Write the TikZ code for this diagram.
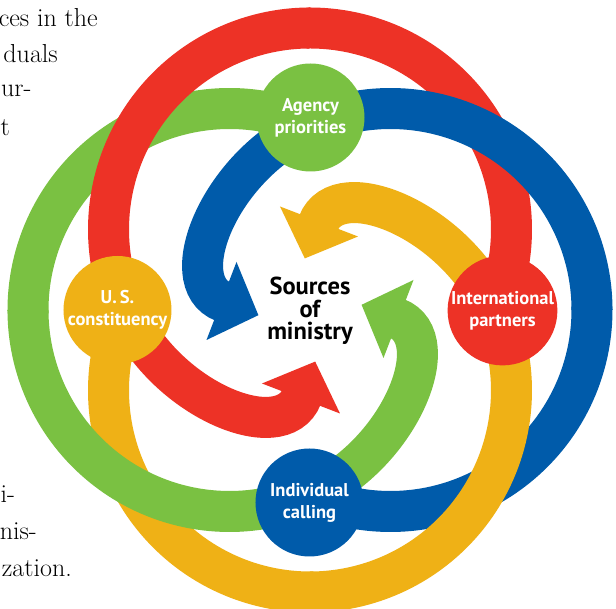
\documentclass[tikz,border=0pt]{standalone}
\usepackage{fontspec}
\newfontfamily\labfont{PT Sans}
\definecolor{ringred}{RGB}{237,50,38}
\definecolor{ringblue}{RGB}{0,91,170}
\definecolor{ringgreen}{RGB}{122,193,66}
\definecolor{ringyellow}{RGB}{239,177,22}
\tikzset{
  band/.style={line width=41pt, line cap=butt},
  hub/.style={circle, minimum size=108pt, inner sep=0pt, text=white,
    font=\labfont\bfseries\fontsize{18.5}{22}\selectfont, align=center},
  core/.style={font=\labfont\bfseries\fontsize{24.5}{24.5}\selectfont, text=black, anchor=base, inner sep=0pt},
  margin/.style={font=\fontsize{26}{26}\selectfont, anchor=base east, inner sep=0pt}
}
\newcommand\earlyband[2]{%
  \begin{scope}[rotate=#1]
    \draw[band,#2] ([shift={(0,80.5)}]-22.6:201.5) arc[start angle=-22.6, end angle=91, radius=201.5];
  \end{scope}}
\newcommand\lateband[2]{%
  \begin{scope}[rotate=#1]
    \draw[band,#2] ([shift={(0,80.5)}]90:201.5) arc[start angle=90, end angle=202.6, radius=201.5]
      .. controls +(-67.4:100) and +(249:55) .. (-8.3,-86.6);
    \fill[#2] (-48,-73.5) -- (5.2,-51.6) -- (30,-103.5) -- cycle;
  \end{scope}}
\begin{document}
\begin{tikzpicture}[x=1pt,y=1pt]
\clip (-310,-299) rectangle (306,310);
\fill[white] (-310,-299) rectangle (306,310);
% lower layer: first half of every ring
\earlyband{0}{ringred}
\earlyband{-90}{ringblue}
\earlyband{180}{ringyellow}
\earlyband{90}{ringgreen}
% upper layer: second half of every ring and its arrow
\lateband{0}{ringred}
\lateband{-90}{ringblue}
\lateband{180}{ringyellow}
\lateband{90}{ringgreen}
% hubs
\node[hub, fill=ringgreen] (agency) at (0.5,192.5) {Agency\\priorities};
\node[hub, fill=ringred] (intl) at (192.5,-0.5) {International\\partners};
\node[hub, fill=ringblue] (indiv) at (-0.5,-192.5) {Individual\\calling};
\node[hub, fill=ringyellow] (us) at (-192.5,0) {U.\,S.\\constituency};
% centre
\node[core] (src) at (0,15) {Sources};
\node[core] (of) at (0,-8) {of};
\node[core] (min) at (0,-30) {ministry};
% cut-off paragraph text at the left
\node[margin] (m1) at (-212,283) {ces in the};
\node[margin] (m2) at (-252,247) {duals};
\node[margin, anchor=base west] (m3) at (-309,213) {ur-};
\node[margin, anchor=base west] (m4) at (-309.5,174) {t};
\node[margin, anchor=base west] (m5) at (-309.5,-193) {i-};
\node[margin] (m6) at (-273,-230) {nis-};
\node[margin] (m7) at (-238,-267) {zation.};
\end{tikzpicture}
\end{document}
